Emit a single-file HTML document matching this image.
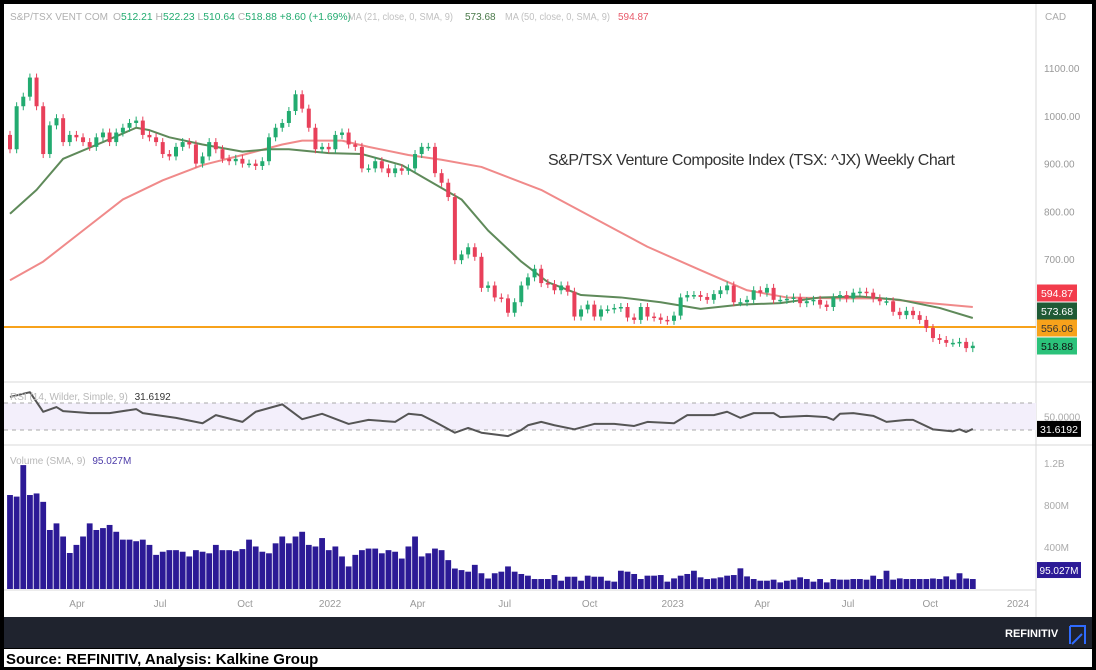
<!DOCTYPE html>
<html><head><meta charset="utf-8"><style>
html,body{margin:0;padding:0;background:#fff;}
svg{display:block;font-family:"Liberation Sans",sans-serif;}
</style></head><body>
<svg id="chart" width="1096" height="670" viewBox="0 0 1096 670" xmlns="http://www.w3.org/2000/svg">
<rect x="0" y="0" width="1096" height="670" fill="#000"/>
<rect x="4" y="4" width="1088" height="613" fill="#fff"/>
<rect x="4" y="617" width="1088" height="31" fill="#1f232e"/>
<rect x="4" y="649" width="1088" height="18" fill="#fff"/>
<text x="1005" y="637" fill="#fff" font-size="11" font-weight="bold">REFINITIV</text>
<path d="M1070 626 H1085 V644 M1070 626 V644 M1072 644 L1082 634" stroke="#2f6bff" stroke-width="2" fill="none"/>
<text x="6" y="664" fill="#000" font-size="15" font-weight="bold">Source: REFINITIV, Analysis: Kalkine Group</text>
<line x1="1036" y1="4" x2="1036" y2="617" stroke="#d8d8d8"/>
<line x1="4" y1="382" x2="1092" y2="382" stroke="#d8d8d8"/>
<line x1="4" y1="445" x2="1092" y2="445" stroke="#d8d8d8"/>
<line x1="4" y1="590" x2="1036" y2="590" stroke="#d8d8d8"/>
<rect x="4" y="403" width="1032" height="27" fill="#f3effb"/>
<line x1="4" y1="403" x2="1036" y2="403" stroke="#aaa" stroke-dasharray="4,4"/>
<line x1="4" y1="430" x2="1036" y2="430" stroke="#aaa" stroke-dasharray="4,4"/>
<g id="vol"></g>
<g id="ma"></g>
<line x1="4" y1="327" x2="1036" y2="327" stroke="#f7a21b" stroke-width="2"/>
<g id="candles"></g>
<g id="rsi"></g>
<g id="axes"></g>
<text x="548" y="165" fill="#333" font-size="16" textLength="407">S&amp;P/TSX Venture Composite Index (TSX: ^JX) Weekly Chart</text>
<g font-size="10">
<text x="10" y="20" fill="#b0b0b0" textLength="98" lengthAdjust="spacingAndGlyphs">S&amp;P/TSX VENT COM</text>
<text x="113" y="20" fill="#b0b0b0" textLength="238" lengthAdjust="spacingAndGlyphs">O<tspan fill="#22ab70">512.21</tspan> H<tspan fill="#22ab70">522.23</tspan> L<tspan fill="#22ab70">510.64</tspan> C<tspan fill="#22ab70">518.88</tspan> <tspan fill="#22ab70">+8.60 (+1.69%)</tspan></text>
<text x="348" y="20" fill="#c0c0c0" textLength="105" lengthAdjust="spacingAndGlyphs">MA (21, close, 0, SMA, 9)</text>
<text x="465" y="20" fill="#4b7a4b">573.68</text>
<text x="505" y="20" fill="#c0c0c0" textLength="105" lengthAdjust="spacingAndGlyphs">MA (50, close, 0, SMA, 9)</text>
<text x="618" y="20" fill="#e85a6a">594.87</text>
<text x="10" y="400" fill="#b8b8b8">RSI (14, Wilder, Simple, 9) <tspan fill="#333" dx="4">31.6192</tspan></text>
<text x="10" y="464" fill="#b8b8b8">Volume (SMA, 9) <tspan fill="#4b3aa8" dx="4">95.027M</tspan></text>
</g>
<text x="1045" y="20" fill="#aaa" font-size="10">CAD</text>
</svg>
<script>
const closes=[930,1020,1040,1080,1020,920,980,995,945,960,955,945,935,955,965,945,965,975,985,990,960,955,945,920,915,935,945,940,900,915,945,930,910,905,910,900,900,895,905,955,975,985,1010,1045,1015,975,930,935,930,960,965,940,935,890,890,905,890,880,890,885,890,920,935,935,880,860,830,698,710,725,705,
640,645,620,618,588,610,645,662,680,650,648,635,645,632,580,595,605,580,595,595,598,600,578,573,600,580,578,573,571,582,620,625,625,621,615,627,635,645,610,610,615,635,630,640,615,615,617,620,608,612,615,605,600,620,625,618,630,632,630,618,612,612,590,583,592,583,573,556,535,531,525,525,527,514,519];
const firstOpen=960;
const volumes=[895,880,1180,895,910,830,562,625,500,343,420,500,625,562,580,610,545,470,470,455,470,420,325,355,370,370,355,310,370,355,340,420,370,370,360,380,470,405,355,340,435,500,435,500,545,420,405,485,370,405,310,215,325,370,385,385,340,370,355,290,405,500,310,340,385,370,275,195,180,165,230,150,100,150,165,215,165,
143,127,95,95,95,133,79,117,117,79,127,117,117,79,70,174,165,143,95,127,127,133,70,101,127,143,174,111,95,101,111,127,133,197,120,95,79,79,89,63,79,89,111,95,70,95,63,95,89,89,95,95,89,127,95,174,89,101,95,95,95,95,100,95,120,90,150,100,95,95];
const ma21Weeks=[0,4,8,14,19,21,24,29,35,39,42,48,53,59,63,68,72,77,81,86,92,98,104,110,116,122,128,134,140,145];
const ma21Vals=[795,845,910,945,975,970,955,940,925,930,930,922,920,897,865,825,760,695,652,625,620,610,596,605,608,620,622,615,598,577];
const ma50Weeks=[0,5,11,17,23,29,35,41,44,50,54,60,65,71,80,89,96,104,111,117,125,131,137,145];
const ma50Vals=[656,695,760,825,865,897,918,940,948,948,935,918,908,893,845,778,726,677,635,620,618,618,610,600];
const rsiWeeks=[0,3,5,7,8,12,15,19,20,25,29,31,35,37,41,44,47,51,54,58,60,62,64,67,69,71,75,77,78,80,82,85,88,91,94,96,100,102,106,108,110,112,115,116,120,123,124,125,127,130,132,135,136,139,142,143,144,145];
const rsiVals=[79,86,57,64,58,55,55,61,55,48,40,52,42,57,68,46,54,39,45,42,54,52,42,26,33,26,21,30,37,42,37,31,39,39,36,42,40,52,52,57,48,55,55,49,51,49,45,54,55,51,42,45,45,31,28,31,27,31.6];
const priceTicks=[1100,1000,900,800,700];
const volTicks=[1200,800,400];
const volTickLabels=["1.2B","800M","400M"];
const timeLabels=["Apr","Jul","Oct","2022","Apr","Jul","Oct","2023","Apr","Jul","Oct","2024"];
const timeWeeks=[10.1,22.6,35.4,48.2,61.4,74.5,87.3,99.8,113.3,126.2,138.6,151.8];

const NS="http://www.w3.org/2000/svg";
const xOf=i=>10+i*6.64;
const yP=p=>68+(1100-p)*0.478;
const yV=v=>589-v*0.105;
const yR=r=>430-(r-30)*0.675;
function mk(tag,attrs,parent){const e=document.createElementNS(NS,tag);for(const k in attrs)e.setAttribute(k,attrs[k]);parent.appendChild(e);return e;}
const gV=document.getElementById('vol'),gC=document.getElementById('candles'),gM=document.getElementById('ma'),gR=document.getElementById('rsi'),gA=document.getElementById('axes');

volumes.forEach((v,i)=>{if(i>=closes.length)return;const r=mk('rect',{x:xOf(i)-2.9,y:yV(v),width:5.8,height:589-yV(v),fill:'#2c1a96'},gV);

});

closes.forEach((c,i)=>{const o=i===0?firstOpen:closes[i-1];const up=c>=o;const col=up?'#22ab70':'#e8405a';
const top=Math.min(yP(o),yP(c)),bot=Math.max(yP(o),yP(c));
const w=mk('line',{x1:xOf(i),x2:xOf(i),y1:top-4,y2:bot+4,stroke:col,'stroke-width':1},gC);


const b=mk('rect',{x:xOf(i)-2,y:top,width:4,height:Math.max(bot-top,1.5),fill:col},gC);

});

function poly(weeks,vals,yf,col,w,parent,name){const pts=weeks.map((wk,i)=>xOf(wk)+','+yf(vals[i])).join(' ');
const p=mk('polyline',{points:pts,fill:'none',stroke:col,'stroke-width':w,'stroke-linejoin':'round'},parent);

}
poly(ma50Weeks,ma50Vals,yP,'#f08a8a',2,gM,'ma50-line');
poly(ma21Weeks,ma21Vals,yP,'#5f8a5a',2,gM,'ma21-line');
poly(rsiWeeks,rsiVals,yR,'#555',2,gR,'rsi-polyline');

priceTicks.forEach(p=>{const t=mk('text',{x:1044,y:yP(p)+4,fill:'#999','font-size':10},gA);t.textContent=p.toFixed(2);

});
volTicks.forEach((v,i)=>{const t=mk('text',{x:1044,y:yV(v)+4,fill:'#aaa','font-size':10},gA);t.textContent=volTickLabels[i];

});
const rt=mk('text',{x:1044,y:yR(50)+4,fill:'#aaa','font-size':10},gA);rt.textContent='50.0000';


timeLabels.forEach((l,i)=>{const t=mk('text',{x:xOf(timeWeeks[i]),y:607,fill:'#999','font-size':10,'text-anchor':'middle'},gA);t.textContent=l;

});

const badges=[[594.87,'#f23c4c','#fff','ma50-badge'],[573.68,'#1f5a35','#fff','ma21-badge'],[556.06,'#f7a21b','#333','support-badge'],[518.88,'#2bc27a','#111','price-badge']];
const badgeY=[293,311,328,346];
badges.forEach((b,i)=>{const r=mk('rect',{x:1037,y:badgeY[i]-8.5,width:40,height:17,fill:b[1]},gA);


const t=mk('text',{x:1057,y:badgeY[i]+4,fill:b[2],'font-size':10.5,'text-anchor':'middle'},gA);t.textContent=b[0].toFixed(2);

});
const rb=mk('rect',{x:1037,y:yR(31.62)-8,width:44,height:16,fill:'#000'},gA);


const rbt=mk('text',{x:1059,y:yR(31.62)+4,fill:'#fff','font-size':10.5,'text-anchor':'middle'},gA);rbt.textContent='31.6192';


const vb=mk('rect',{x:1037,y:yV(95)-17,width:44,height:16,fill:'#2c1a96'},gA);


const vbt=mk('text',{x:1059,y:yV(95)-5,fill:'#fff','font-size':10,'text-anchor':'middle'},gA);vbt.textContent='95.027M';


</script>
</body></html>
